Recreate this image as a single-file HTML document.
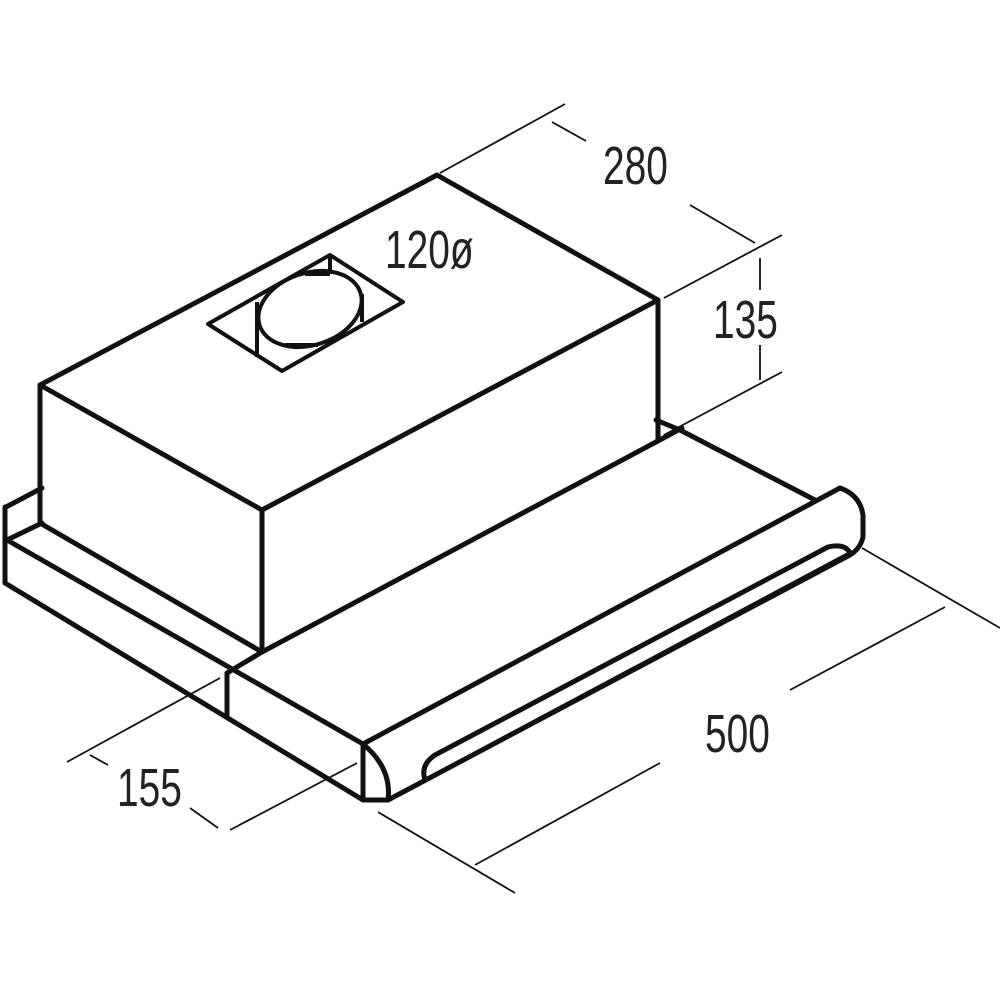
<!DOCTYPE html>
<html><head><meta charset="utf-8"><style>
html,body{margin:0;padding:0;background:#fff;}
svg{display:block}
text{font-family:"Liberation Sans",sans-serif;fill:#222;}
</style></head><body>
<svg width="1000" height="1000" viewBox="0 0 1000 1000" xmlns="http://www.w3.org/2000/svg">
<g fill="none" stroke="#111" stroke-width="5" stroke-linejoin="round" stroke-linecap="round">
  <polygon points="40,385 437,175 658,300 262,510"/>
  <line x1="40" y1="385" x2="40" y2="523"/>
  <line x1="262" y1="510" x2="262" y2="652"/>
  <line x1="658" y1="300" x2="658" y2="440"/>
  <line x1="40" y1="523" x2="262" y2="652"/>
  <line x1="262" y1="652" x2="656" y2="442"/>
  <line x1="42" y1="488" x2="6" y2="507"/>
  <line x1="5" y1="507" x2="5" y2="583"/>
  <line x1="42" y1="523" x2="7" y2="540"/>
  <line x1="7" y1="540" x2="363" y2="744"/>
  <line x1="5" y1="583" x2="363" y2="800"/>
  <line x1="227" y1="673" x2="227" y2="717"/>
  <line x1="227" y1="673" x2="262" y2="652"/>
  <line x1="656" y1="420" x2="680" y2="430"/>
  <line x1="680" y1="430" x2="815" y2="500"/>
  <line x1="656" y1="442" x2="682" y2="428"/>
  <line x1="363" y1="744" x2="840" y2="488"/>
  <path d="M840,488 Q860,495 863,515 L863,537 Q860,550 848,556"/>
  <line x1="388" y1="800" x2="848" y2="556"/>
  <path d="M363,744 L363,800 L388,800 Q392,768 363,744"/>
  <path d="M425,780 Q420,765 435,755 L828,547 Q845,543 850,553"/>
  <line x1="425" y1="780" x2="850" y2="553" stroke-width="4"/>
</g>
<g fill="none" stroke="#111" stroke-width="4" stroke-linejoin="round">
  <polygon points="208,324 330,255 403,302 282,371"/>
  <ellipse cx="310" cy="309" rx="53" ry="36" transform="rotate(-18 310 309)"/>
  <line x1="257" y1="302" x2="257" y2="357"/>
  <line x1="330" y1="256" x2="330" y2="274"/>
  <line x1="305" y1="274" x2="330" y2="274"/>
  <line x1="285" y1="345" x2="318" y2="345"/>
  <line x1="362" y1="294" x2="362" y2="322"/>
</g>
<g stroke="#111" stroke-width="1.8" fill="none">
  <line x1="440" y1="173" x2="565" y2="104"/>
  <line x1="552" y1="122" x2="586" y2="141"/>
  <line x1="690" y1="205" x2="755" y2="243"/>
  <line x1="664" y1="298" x2="782" y2="235"/>
  <line x1="760" y1="258" x2="760" y2="290"/>
  <line x1="760" y1="345" x2="760" y2="380"/>
  <line x1="664" y1="435" x2="782" y2="372"/>
  <line x1="862" y1="548" x2="1000" y2="628"/>
  <line x1="790" y1="690" x2="945" y2="607"/>
  <line x1="475" y1="865" x2="660" y2="763"/>
  <line x1="378" y1="812" x2="515" y2="893"/>
  <line x1="220" y1="678" x2="67" y2="762"/>
  <line x1="90" y1="755" x2="108" y2="765"/>
  <line x1="190" y1="808" x2="218" y2="828"/>
  <line x1="357" y1="763" x2="230" y2="830"/>
</g>
<g font-size="54">
  <text transform="translate(603,184) scale(0.72,1)">280</text>
  <text transform="translate(385,268) scale(0.72,1)">120ø</text>
  <text transform="translate(713,338) scale(0.72,1)">135</text>
  <text transform="translate(705,752) scale(0.72,1)">500</text>
  <text transform="translate(117,806) scale(0.72,1)">155</text>
</g>
</svg>
</body></html>
